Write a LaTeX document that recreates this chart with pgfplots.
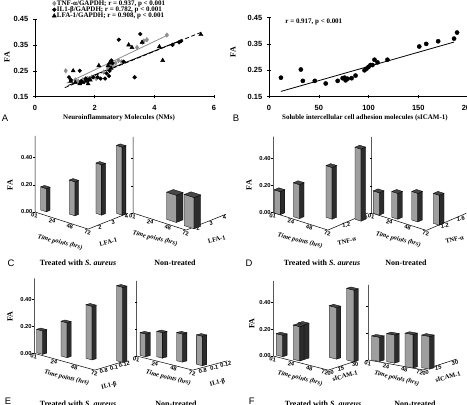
\documentclass[border=0pt]{standalone}
\usepackage{fontspec}
\setmainfont{Liberation Serif}
\setsansfont{Liberation Sans}
\usepackage{pgfplots}
\pgfplotsset{compat=1.18}

\definecolor{tnfgray}{HTML}{8E8E8E}
\definecolor{frontgray}{HTML}{9E9E9E}
\definecolor{sidegray}{HTML}{2C2C2C}
\definecolor{topgray}{HTML}{474747}

\newcommand\tickfont{\fontsize{7.5}{8}\selectfont\sffamily\bfseries}
\newcommand\smalltickfont{\fontsize{5.8}{6.5}\selectfont\sffamily\bfseries}
\newcommand\labfont{\fontsize{7}{8}\selectfont\bfseries}
\newcommand\capfont{\fontsize{8}{9}\selectfont\bfseries}
\newcommand\letterfont{\fontsize{9.5}{10}\selectfont\sffamily}

\tikzset{
  zlab/.style={font=\smalltickfont, anchor=east, xshift=-2.5bp, inner sep=0pt},
  tlab/.style={font=\smalltickfont, anchor=north, yshift=-0.6bp, rotate=-12, inner sep=0.3pt},
  mlab/.style={font=\smalltickfont, anchor=north, xshift=-2bp, yshift=-1bp, rotate=10, inner sep=0.3pt},
  ttl/.style={font=\fontsize{6.5}{7}\selectfont\bfseries\itshape, inner sep=0pt},
  mtl/.style={font=\fontsize{6.5}{7}\selectfont\bfseries, inner sep=0pt},
}

\pgfplotsset{
  scatteraxis/.style={
    scale only axis, anchor=south west,
    ymin=0.15, ymax=0.45, ytick={0.15,0.25,0.35,0.45},
    axis x line*=bottom, axis y line*=left,
    axis line style={line width=0.5bp},
    tick align=center, major tick length=3.5bp,
    tick style={black, line width=0.5bp},
    /pgf/number format/assume math mode=true,
    ticklabel style={font=\tickfont},
    yticklabel style={xshift=-1.5bp, /pgf/number format/.cd, fixed, fixed zerofill, precision=2},
    xticklabel style={yshift=-3bp},
    xlabel style={anchor=center, font=\labfont},
    ylabel style={anchor=center, font=\fontsize{8}{9}\selectfont\bfseries},
  },
  cubeaxis/.style={hide axis, clip=false, anchor=origin,
    xmin=0, xmax=3, ymin=0, ymax=3, zmin=0, zmax=0.56},
  barfront/.style={draw=black, line width=0.3bp, fill=frontgray},
  barside/.style={draw=black, line width=0.3bp, fill=sidegray},
  bartop/.style={draw=black, line width=0.3bp, fill=topgray},
}

% one bar as a cuboid: front-left corner (x0,y0), width, depth, height
\newcommand\cube[5]{%
  \pgfmathsetmacro\cxa{#1}\pgfmathsetmacro\cxb{#1+#3}%
  \pgfmathsetmacro\cya{#2}\pgfmathsetmacro\cyb{#2+#4}%
  \edef\cubeplot{%
    \noexpand\addplot3[barfront] coordinates {(\cxa,\cya,0) (\cxb,\cya,0) (\cxb,\cya,#5) (\cxa,\cya,#5)} -- cycle;
    \noexpand\addplot3[barside] coordinates {(\cxb,\cya,0) (\cxb,\cyb,0) (\cxb,\cyb,#5) (\cxb,\cya,#5)} -- cycle;
    \noexpand\addplot3[bartop] coordinates {(\cxa,\cya,#5) (\cxb,\cya,#5) (\cxb,\cyb,#5) (\cxa,\cyb,#5)} -- cycle;
  }\cubeplot}

\newcommand\boxaxes{\addplot3[black, line width=0.5bp] coordinates {(0,0,0.56) (0,0,0) (3,0,0) (3,3,0)};}
\newcommand\zticksR{%
  \draw[line width=0.4bp] (axis cs:0,0,0) -- ++(-2bp,0);
  \draw[line width=0.4bp] (axis cs:0,0,0.2) -- ++(-2bp,0);
  \draw[line width=0.4bp] (axis cs:0,0,0.4) -- ++(-2bp,0);}
\newcommand\zticksL{\zticksR
  \node[zlab] at (axis cs:0,0,0) {0.00};
  \node[zlab] at (axis cs:0,0,0.2) {0.20};
  \node[zlab] at (axis cs:0,0,0.4) {0.40};}
\newcommand\timeticks{%
  \node[tlab] at (axis cs:0,0,0) {01};
  \node[tlab] at (axis cs:1,0,0) {24};
  \node[tlab] at (axis cs:2,0,0) {48};
  \node[tlab] at (axis cs:3,0,0) {72};}

\begin{document}
\begin{tikzpicture}
\path[use as bounding box] (0,0) rectangle (467bp,405bp);

% ---------------- Panel A ----------------
\begin{axis}[scatteraxis, at={(35bp,308.3bp)}, width=179bp, height=77.7bp,
  xmin=0, xmax=6, xtick={0,2,4,6},
  xlabel={Neuroinflammatory Molecules (NMs)},
  xlabel style={at={(axis description cs:0.47,-0.274)}},
  ylabel={FA}, ylabel style={at={(axis description cs:-0.156,0.51)}},
  legend style={at={(axis description cs:0.095,1.25)}, anchor=north west,
    draw=none, fill=none, font=\labfont, inner sep=0pt, row sep=-1.2bp,
    nodes={inner sep=0.6bp}},
  legend cell align=left,
  legend image code/.code={\draw[#1] plot coordinates {(0bp,0bp)};},
]
\addplot[only marks, mark=diamond*, mark size=2.3bp, color=tnfgray] coordinates {
 (1.03,0.25) (1.35,0.215) (1.45,0.21) (1.6,0.215) (1.75,0.22) (1.9,0.225)
 (2.05,0.22) (2.3,0.245) (2.45,0.26) (2.5,0.27) (2.55,0.275) (2.6,0.27)
 (2.7,0.28) (2.8,0.29) (2.9,0.285) (3.42,0.34) (3.6,0.36) (3.65,0.365)
 (3.75,0.37) (4.42,0.388)};
\addlegendentry{TNF-α/GAPDH; r = 0.937, p < 0.001}
\addplot[only marks, mark=*, mark size=1.9bp, color=black] coordinates {
 (1.14,0.225) (1.2,0.215) (1.5,0.25) (1.55,0.21) (1.7,0.22) (1.8,0.215)
 (1.95,0.225) (2.1,0.225) (2.2,0.22) (2.35,0.22) (2.4,0.24) (2.5,0.25)
 (2.48,0.23) (2.56,0.29) (2.6,0.28) (2.81,0.37) (2.97,0.285) (3.34,0.225)
 (3.53,0.392) (4.61,0.35) (4.83,0.36) (4.9,0.365)};
\addlegendentry{IL1-β/GAPDH; r = 0.782, p < 0.001}
\addplot[only marks, mark=triangle*, mark size=2.4bp, color=black] coordinates {
 (1.28,0.25) (1.2,0.21) (1.35,0.205) (1.5,0.2) (1.6,0.205) (1.7,0.21)
 (1.78,0.2) (1.85,0.215) (2.14,0.27) (2.45,0.27) (2.5,0.28) (2.55,0.26)
 (3.14,0.35) (3.25,0.34) (3.59,0.36) (4.17,0.343) (4.28,0.29) (5.56,0.39)};
\addlegendentry{LFA-1/GAPDH; r = 0.908, p < 0.001}
\addplot[tnfgray, line width=0.8bp, forget plot] coordinates {(1.06,0.202) (4.47,0.389)};
\addplot[black, line width=0.8bp, forget plot] coordinates {(1.1,0.193) (4.9,0.368)};
\addplot[black, line width=0.8bp, dashed, dash pattern=on 4bp off 2.5bp, forget plot] coordinates {(1.0,0.185) (5.6,0.40)};
\end{axis}

% ---------------- Panel B ----------------
\begin{axis}[scatteraxis, at={(269bp,308.3bp)}, width=199bp, height=79.2bp,
  xmin=0, xmax=200, xtick={0,50,100,150,200},
  xlabel={Soluble intercellular cell adhesion molecules (sICAM-1)},
  xlabel style={at={(axis description cs:0.482,-0.27)}},
  ylabel={FA}, ylabel style={at={(axis description cs:-0.181,0.564)}},
]
\addplot[only marks, mark=*, mark size=2.1bp, color=black] coordinates {
 (12,0.222) (32,0.253) (34,0.21) (46,0.21) (57,0.20) (69,0.21)
 (74,0.22) (76,0.222) (77,0.212) (79,0.218) (83,0.22) (87,0.23)
 (96,0.25) (98,0.256) (100,0.263) (102,0.27) (104,0.27) (106,0.29)
 (109,0.28) (119,0.29) (151,0.34) (158,0.35) (170,0.36) (186,0.37) (189,0.393)};
\addplot[black, line width=0.8bp] coordinates {(12,0.17) (186,0.357)};
\node[anchor=west, font=\labfont] at (axis cs:13,0.432) {r = 0.917, p < 0.001};
\end{axis}

\node[font=\letterfont] at (5bp,287bp) {A};
\node[font=\letterfont] at (236bp,287bp) {B};

% ---------------- Panel C ----------------
\begin{axis}[cubeaxis, at={(35bp,193bp)}, x={(17.7bp,-5.7bp)}, y={(13.3bp,5.3bp)}, z={(0bp,136bp)}]
\boxaxes \zticksL \timeticks
\node[mlab] at (axis cs:3,1,0) {2};
\node[mlab] at (axis cs:3,2,0) {3};
\node[mlab] at (axis cs:3,3,0) {4};
\cube{0.02}{0.40}{0.32}{0.28}{0.17}
\cube{1.23}{0.94}{0.32}{0.28}{0.25}
\cube{2.01}{1.91}{0.32}{0.28}{0.37}
\cube{2.65}{2.60}{0.32}{0.28}{0.50}
\end{axis}
\begin{axis}[cubeaxis, at={(133bp,192bp)}, x={(17.7bp,-5.7bp)}, y={(13.3bp,5.3bp)}, z={(0bp,136bp)}]
\boxaxes \zticksR \timeticks
\node[mlab] at (axis cs:3,1,0) {2};
\node[mlab] at (axis cs:3,2,0) {3};
\node[mlab] at (axis cs:3,3,0) {4};
\cube{1.55}{0.47}{0.55}{0.50}{0.20}
\cube{2.60}{0.40}{0.55}{0.50}{0.23}
\end{axis}
\node[font=\fontsize{8}{9}\selectfont\bfseries, rotate=90] at (10bp,220bp) {FA};
\node[ttl, rotate=-14] at (60bp,162.5bp) {Time points (hrs)};
\node[mtl, rotate=15] at (108.3bp,163bp) {LFA-1};
\node[ttl, rotate=-14] at (155bp,166.5bp) {Time points (hrs)};
\node[mtl, rotate=15] at (216.7bp,165.5bp) {LFA-1};
\node[font=\letterfont] at (11bp,142bp) {C};
\node[font=\capfont] at (78bp,142bp) {Treated with \textit{S. aureus}};
\node[font=\capfont] at (175bp,142bp) {Non-treated};

% ---------------- Panel D ----------------
\begin{axis}[cubeaxis, at={(273.3bp,192.3bp)}, x={(18.2bp,-5.8bp)}, y={(13.3bp,5.7bp)}, z={(0bp,136bp)}]
\boxaxes \zticksL \timeticks
\node[mlab] at (axis cs:3,1.5,0) {1.2};
\node[mlab] at (axis cs:3,2.8,0) {1.6};
\cube{0.04}{0.01}{0.33}{0.35}{0.17}
\cube{0.93}{0.24}{0.33}{0.35}{0.25}
\cube{2.00}{1.23}{0.33}{0.35}{0.38}
\cube{3.06}{1.96}{0.33}{0.35}{0.53}
\end{axis}
\begin{axis}[cubeaxis, at={(371.7bp,192bp)}, x={(18.2bp,-5.8bp)}, y={(13.3bp,5.7bp)}, z={(0bp,136bp)}]
\boxaxes \zticksR \timeticks
\node[mlab] at (axis cs:3,1.5,0) {1.2};
\node[mlab] at (axis cs:3,2.7,0) {1.6};
\cube{0.07}{0.02}{0.33}{0.35}{0.165}
\cube{0.95}{0.21}{0.33}{0.35}{0.19}
\cube{1.78}{0.58}{0.33}{0.35}{0.21}
\cube{2.70}{0.94}{0.33}{0.35}{0.22}
\end{axis}
\node[font=\fontsize{8}{9}\selectfont\bfseries, rotate=90] at (249bp,220bp) {FA};
\node[ttl, rotate=-14] at (300bp,164bp) {Time points (hrs)};
\node[mtl, rotate=15] at (346.7bp,164bp) {TNF-α};
\node[ttl, rotate=-14] at (398.3bp,165.5bp) {Time points (hrs)};
\node[mtl, rotate=15] at (454.5bp,165.5bp) {TNF-α};
\node[font=\letterfont] at (249bp,142bp) {D};
\node[font=\capfont] at (322bp,142bp) {Treated with \textit{S. aureus}};
\node[font=\capfont] at (406bp,142bp) {Non-treated};

% ---------------- Panel E ----------------
\begin{axis}[cubeaxis, at={(34.3bp,51.7bp)}, x={(20.2bp,-5.6bp)}, y={(10.3bp,3.1bp)}, z={(0bp,134bp)}]
\boxaxes \zticksL \timeticks
\node[mlab] at (axis cs:3,1,0) {0.8};
\node[mlab] at (axis cs:3,2,0) {0.1};
\node[mlab] at (axis cs:3,3,0) {0.12};
\cube{0.01}{0.21}{0.30}{0.40}{0.175}
\cube{0.92}{0.79}{0.30}{0.40}{0.26}
\cube{1.76}{1.57}{0.30}{0.40}{0.40}
\cube{2.76}{2.59}{0.30}{0.40}{0.56}
\end{axis}
\begin{axis}[cubeaxis, at={(136.7bp,49bp)}, x={(18.7bp,-4.7bp)}, y={(11.5bp,3.1bp)}, z={(0bp,134bp)}]
\boxaxes \zticksR \timeticks
\node[mlab] at (axis cs:3,1,0) {0.8};
\node[mlab] at (axis cs:3,2,0) {0.1};
\node[mlab] at (axis cs:3,3,0) {0.12};
\cube{0.03}{0.25}{0.30}{0.40}{0.17}
\cube{0.63}{0.72}{0.30}{0.40}{0.19}
\cube{1.59}{0.89}{0.30}{0.40}{0.21}
\cube{2.51}{1.13}{0.30}{0.40}{0.22}
\end{axis}
\node[font=\fontsize{8}{9}\selectfont\bfseries, rotate=90] at (10bp,88.3bp) {FA};
\node[ttl, rotate=-14] at (66.7bp,27bp) {Time points (hrs)};
\node[mtl, rotate=15] at (109bp,19bp) {IL1-β};
\node[ttl, rotate=-14] at (168.3bp,27bp) {Time points (hrs)};
\node[mtl, rotate=15] at (217.5bp,22bp) {IL1-β};
\node[font=\letterfont] at (8bp,4bp) {E};
\node[font=\capfont] at (78bp,1.5bp) {Treated with \textit{S. aureus}};
\node[font=\capfont] at (176bp,1.5bp) {Non-treated};

% ---------------- Panel F ----------------
\begin{axis}[cubeaxis, at={(273.3bp,49bp)}, x={(18.3bp,-4.7bp)}, y={(9.5bp,3.1bp)}, z={(0bp,134bp)}]
\boxaxes \zticksL
\node[tlab] at (axis cs:0,0,0) {01};
\node[tlab] at (axis cs:1,0,0) {24};
\node[tlab] at (axis cs:2,0,0) {48};
\node[tlab, xshift=-3bp] at (axis cs:3,0,0) {72};
\node[mlab, xshift=4bp] at (axis cs:3,0,0) {00};
\node[mlab] at (axis cs:3,1.5,0) {15};
\node[mlab] at (axis cs:3,3,0) {30};
\cube{0.00}{0.31}{0.36}{0.45}{0.16}
\cube{0.92}{0.85}{0.36}{0.45}{0.26}
\cube{0.92}{0.33}{0.36}{0.45}{0.256}
\cube{1.83}{2.36}{0.40}{0.45}{0.385}
\cube{2.62}{2.68}{0.40}{0.45}{0.535}
\end{axis}
\begin{axis}[cubeaxis, at={(368.3bp,45bp)}, x={(18.3bp,-3.3bp)}, y={(11.1bp,3.6bp)}, z={(0bp,134bp)}]
\boxaxes \zticksR
\node[tlab] at (axis cs:0,0,0) {01};
\node[tlab] at (axis cs:1,0,0) {24};
\node[tlab] at (axis cs:2,0,0) {48};
\node[tlab, xshift=-3bp] at (axis cs:3,0,0) {72};
\node[mlab, xshift=4bp] at (axis cs:3,0,0) {00};
\node[mlab] at (axis cs:3,1.5,0) {15};
\node[mlab] at (axis cs:3,3,0) {30};
\cube{0.12}{0.11}{0.44}{0.40}{0.18}
\cube{0.83}{0.29}{0.44}{0.40}{0.21}
\cube{2.01}{0.00}{0.44}{0.40}{0.25}
\cube{2.71}{0.34}{0.44}{0.40}{0.244}
\end{axis}
\node[font=\fontsize{8}{9}\selectfont\bfseries, rotate=90] at (251.7bp,81.7bp) {FA};
\node[ttl, rotate=-14] at (300bp,26.5bp) {Time points (hrs)};
\node[mtl, rotate=15] at (345bp,29bp) {sICAM-1};
\node[ttl, rotate=-14] at (396.7bp,26.5bp) {Time points (hrs)};
\node[mtl, rotate=15] at (448bp,28bp) {sICAM-1};
\node[font=\letterfont] at (251.7bp,4bp) {F};
\node[font=\capfont] at (323bp,1.5bp) {Treated with \textit{S. aureus}};
\node[font=\capfont] at (415bp,1.5bp) {Non-treated};
\end{tikzpicture}
\end{document}
